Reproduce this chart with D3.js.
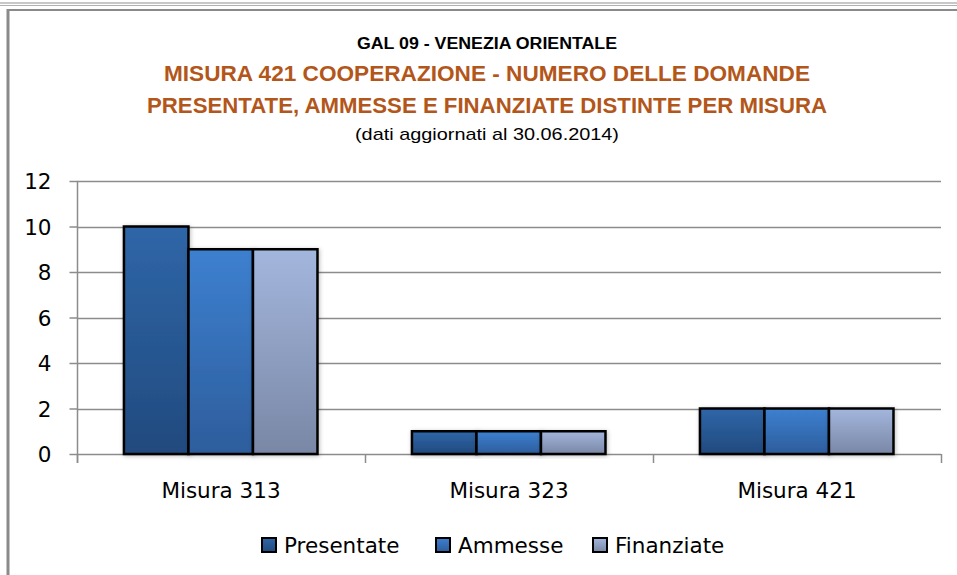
<!DOCTYPE html>
<html>
<head>
<meta charset="utf-8">
<script src="https://cdn.jsdelivr.net/npm/d3@7"></script>
<style>
  body { margin: 0; background: #fff; }
  svg { display: block; }
  .tick-label, .cat-label, .legend-label { font-family: "DejaVu Sans", Verdana, sans-serif; font-size: 21.5px; fill: #000; }
</style>
</head>
<body>
<svg id="chart" width="957" height="575"></svg>
<script>
const categories = ["Misura 313", "Misura 323", "Misura 421"];
const seriesNames = ["Presentate", "Ammesse", "Finanziate"];
const presentate = [10, 1, 2];
const ammesse = [9, 1, 2];
const finanziate = [9, 1, 2];
const yTicks = [0, 2, 4, 6, 8, 10, 12];

const titleLines = [
  "GAL 09 - VENEZIA ORIENTALE",
  "MISURA 421 COOPERAZIONE - NUMERO DELLE DOMANDE",
  "PRESENTATE, AMMESSE E FINANZIATE DISTINTE PER MISURA",
  "(dati aggiornati al 30.06.2014)"
];

const svg = d3.select("#chart");
const width = +svg.attr("width");

// colors top -> bottom of each bar gradient
const gradColors = [
  ["#2f66a8", "#214a7e"],
  ["#3d80d0", "#2d5d9c"],
  ["#a3b6dd", "#7987a5"]
];

const defs = svg.append("defs");
gradColors.forEach((c, i) => {
  const lg = defs.append("linearGradient")
    .attr("id", "grad" + i)
    .attr("x1", 0).attr("y1", 0).attr("x2", 0).attr("y2", 1);
  lg.append("stop").attr("offset", "0%").attr("stop-color", c[0]);
  lg.append("stop").attr("offset", "100%").attr("stop-color", c[1]);
});

const shadow = defs.append("filter").attr("id", "shadow")
  .attr("x", "-20%").attr("y", "-20%").attr("width", "140%").attr("height", "140%");
shadow.append("feDropShadow")
  .attr("dx", 1).attr("dy", 1).attr("stdDeviation", 2)
  .attr("flood-color", "#000").attr("flood-opacity", 0.25);

// frame
svg.append("line").attr("x1", 0).attr("x2", width).attr("y1", 3).attr("y2", 3)
  .attr("stroke", "#c8c8c8").attr("stroke-width", 2);
svg.append("line").attr("x1", 0).attr("x2", width).attr("y1", 5.5).attr("y2", 5.5)
  .attr("stroke", "#b0b0b0").attr("stroke-width", 1);
svg.append("line").attr("x1", 7).attr("x2", width).attr("y1", 10).attr("y2", 10)
  .attr("stroke", "#8a8a8a").attr("stroke-width", 2);
svg.append("line").attr("x1", 8).attr("x2", 8).attr("y1", 9).attr("y2", 575)
  .attr("stroke", "#8a8a8a").attr("stroke-width", 3);

// titles
const titleFont = "'Liberation Sans Narrow', 'Liberation Sans', Arial, sans-serif";
const titleSpec = [
  { y: 49, size: 16, color: "#000", weight: "bold", len: 260 },
  { y: 81, size: 22, color: "#b3561a", weight: "bold", len: 646 },
  { y: 113, size: 22, color: "#b3561a", weight: "bold", len: 680 },
  { y: 140, size: 17, color: "#000", weight: "normal", len: 264 }
];
titleLines.forEach((t, i) => {
  const s = titleSpec[i];
  svg.append("text")
    .attr("x", 487).attr("y", s.y)
    .attr("text-anchor", "middle")
    .attr("font-family", titleFont)
    .attr("font-size", s.size)
    .attr("font-weight", s.weight)
    .attr("fill", s.color)
    .attr("textLength", s.len)
    .attr("lengthAdjust", "spacingAndGlyphs")
    .text(t);
});

// scales
const x0 = d3.scaleBand().domain(categories).range([77, 941]);
const bw = x0.bandwidth();
const x1 = d3.scaleBand().domain(seriesNames).range([bw * 0.163, bw * 0.835]);
const y = d3.scaleLinear().domain([0, 12]).range([454, 181]);

const values = [presentate, ammesse, finanziate];
const rows = categories.map((c, i) => ({
  cat: c,
  vals: seriesNames.map((s, j) => ({ s, j, v: values[j][i] }))
}));

// gridlines
svg.append("g").selectAll("line")
  .data(yTicks)
  .join("line")
  .attr("x1", 77).attr("x2", 941)
  .attr("y1", d => Math.round(y(d)) + 0.5).attr("y2", d => Math.round(y(d)) + 0.5)
  .attr("stroke", "#8c8c8c").attr("stroke-width", 1.5);

// y axis
const yAxis = svg.append("g")
  .attr("transform", "translate(77.5,0)")
  .call(d3.axisLeft(y).tickValues(yTicks).tickSize(8).tickPadding(18));
yAxis.select(".domain").remove();
yAxis.selectAll(".tick line").attr("stroke", "#8c8c8c").attr("stroke-width", 1.5);
yAxis.selectAll(".tick text").attr("class", "tick-label")
  .attr("font-family", null).attr("font-size", null).attr("dy", "0.36em");
svg.append("line").attr("x1", 77.5).attr("x2", 77.5).attr("y1", 181).attr("y2", 463)
  .attr("stroke", "#8c8c8c").attr("stroke-width", 1.5);

// x axis ticks at category boundaries
const bounds = categories.map(c => x0(c)).concat([x0(categories[categories.length - 1]) + bw]);
svg.append("g").selectAll("line")
  .data(bounds)
  .join("line")
  .attr("x1", d => d + 0.5).attr("x2", d => d + 0.5)
  .attr("y1", 454).attr("y2", 463)
  .attr("stroke", "#8c8c8c").attr("stroke-width", 1.5);

svg.append("g").selectAll("text")
  .data(categories)
  .join("text")
  .attr("class", "cat-label")
  .attr("x", d => x0(d) + bw / 2)
  .attr("y", 498)
  .attr("text-anchor", "middle")
  .text(d => d);

// bars
const groups = svg.append("g").selectAll("g")
  .data(rows)
  .join("g")
  .attr("transform", d => `translate(${x0(d.cat)},0)`);

groups.selectAll("rect")
  .data(d => d.vals)
  .join("rect")
  .attr("x", d => x1(d.s))
  .attr("y", d => y(d.v))
  .attr("width", x1.bandwidth())
  .attr("height", d => y(0) - y(d.v))
  .attr("fill", d => `url(#grad${d.j})`)
  .attr("stroke", "#000")
  .attr("stroke-width", 2.5)
  .attr("filter", "url(#shadow)");

// legend
const legendX = [262, 436, 593];
const legend = svg.append("g").selectAll("g")
  .data(seriesNames)
  .join("g")
  .attr("transform", (d, i) => `translate(${legendX[i]},538)`);
legend.append("rect")
  .attr("width", 14).attr("height", 14)
  .attr("fill", (d, i) => `url(#grad${i})`)
  .attr("stroke", "#000").attr("stroke-width", 2);
legend.append("text")
  .attr("class", "legend-label")
  .attr("x", 22).attr("y", 15)
  .text(d => d);
</script>
</body>
</html>
